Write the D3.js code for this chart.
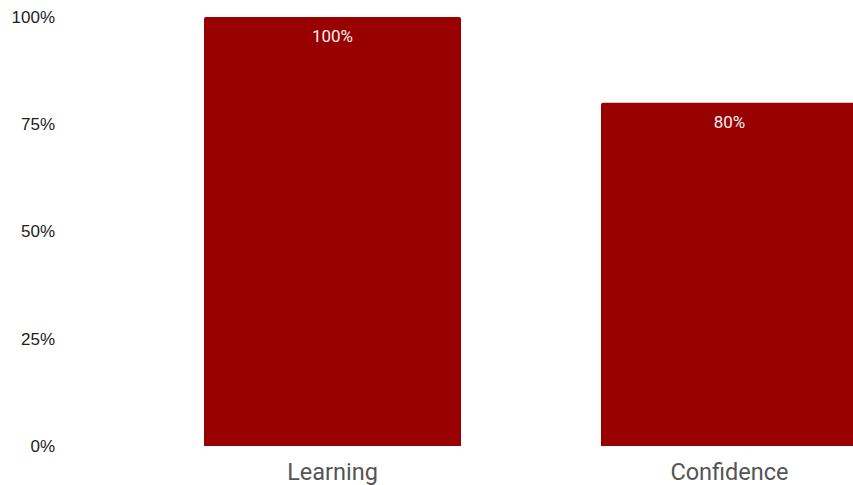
<!DOCTYPE html>
<html>
<head>
<meta charset="utf-8">
<script src="https://cdn.jsdelivr.net/npm/d3@7"></script>
<style>
  html, body { margin: 0; padding: 0; background: #fff; }
  svg { display: block; font-family: Roboto, "Noto Sans", sans-serif; }
</style>
</head>
<body>
<svg id="chart" width="853" height="485"></svg>
<script>
// Survey outcome shares
const categories = ["Learning", "Confidence"];
const values = [100, 80];
const yTicks = [0, 25, 50, 75, 100];

const svg = d3.select("#chart");
const width = 853, height = 485;

const x = d3.scaleBand()
  .domain(categories)
  .range([134, 928])
  .paddingInner(0.3526)
  .paddingOuter(0.1763);

const y = d3.scaleLinear()
  .domain([0, 100])
  .range([446, 17]);

// Y axis labels (no line, no ticks)
const yAxis = d3.axisLeft(y)
  .tickValues(yTicks)
  .tickFormat(d => d + "%")
  .tickSize(0)
  .tickPadding(0);

const yg = svg.append("g")
  .attr("transform", "translate(55,0)")
  .call(yAxis);
yg.select(".domain").remove();
yg.selectAll("text")
  .attr("font-family", "'Liberation Sans', Arial, sans-serif")
  .attr("font-size", 17)
  .attr("fill", "#222");

// Bars with slightly rounded top corners
const r = 2;
svg.append("g")
  .selectAll("path")
  .data(categories.map((c, i) => ({ c, v: values[i] })))
  .join("path")
  .attr("fill", "#990000")
  .attr("d", d => {
    const x0 = x(d.c), x1 = x(d.c) + x.bandwidth();
    const y0 = y(d.v), y1 = y(0);
    return `M${x0},${y1} L${x0},${y0 + r} Q${x0},${y0} ${x0 + r},${y0}` +
           ` L${x1 - r},${y0} Q${x1},${y0} ${x1},${y0 + r} L${x1},${y1} Z`;
  });

// Value labels inside bars
svg.append("g")
  .selectAll("text")
  .data(categories.map((c, i) => ({ c, v: values[i] })))
  .join("text")
  .attr("x", d => x(d.c) + x.bandwidth() / 2)
  .attr("y", d => y(d.v) + 19)
  .attr("dy", "0.35em")
  .attr("text-anchor", "middle")
  .attr("font-size", 17)
  .attr("fill", "#f2f2f2")
  .text(d => d.v + "%");

// X axis category labels
const xAxis = d3.axisBottom(x).tickSize(0).tickPadding(0);
const xg = svg.append("g")
  .attr("transform", "translate(0,463)")
  .call(xAxis);
xg.select(".domain").remove();
xg.selectAll("text")
  .attr("font-family", "Roboto, sans-serif")
  .attr("font-size", 23.5)
  .attr("fill", "#555")
  .attr("dy", "0.71em");
</script>
</body>
</html>
